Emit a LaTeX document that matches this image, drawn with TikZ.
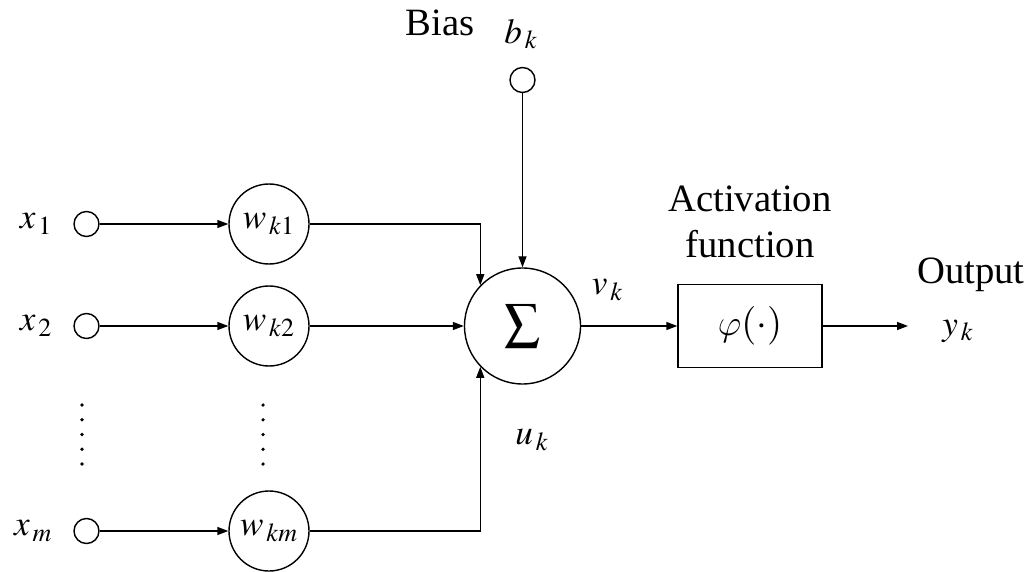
\documentclass[tikz,border=0pt]{standalone}
\usepackage{mathptmx}
\usepackage{fontspec}
\setmainfont{Liberation Serif}
\newfontfamily\lblfont{Liberation Serif}
\DeclareSymbolFont{cmletters}{OML}{cmm}{m}{it}
\DeclareMathSymbol{\cmvarphi}{\mathord}{cmletters}{"27}
\usetikzlibrary{arrows.meta, positioning}

\begin{document}
\begin{tikzpicture}[
  line width=0.8pt,
  every node/.style={font=\fontsize{20}{24}\selectfont},
  lbl/.style={inner sep=0pt},
  txt/.style={font=\lblfont\fontsize{22}{26.5}\selectfont, inner sep=0pt},
  inp/.style={draw, circle, minimum size=0.5cm, inner sep=0pt},
  wt/.style={draw, circle, minimum size=1.6cm, inner sep=0pt},
  arr/.style={-{Triangle[length=2.2mm, width=1.6mm]}}
]
  \useasboundingbox (0,0) rectangle (20.62,-11.44);

  % inputs and weights
  \foreach \i/\y in {1/-4.48, 2/-6.52, m/-10.62} {
    \node[inp] (in\i) at (1.73,\y) {};
    \node[lbl, anchor=east] (lx\i) at (1.06,\y) {$x_{\,\i}$};
    \node[wt] (w\i) at (5.38,\y) {$w_{\,k\i}$};
    \draw[arr] (in\i) -- (w\i);
  }

  \foreach \x in {1.64, 5.26}
    \foreach \k in {0,...,4}
      \fill (\x,-8.1-0.295*\k) circle (1pt);

  \node[draw, circle, minimum size=2.32cm, inner sep=0pt] (sum) at (10.45,-6.52) {$\displaystyle\sum$};
  \node[inp] (bias) at (10.45,-1.6) {};
  \node[draw, minimum width=2.88cm, minimum height=1.66cm, font=\fontsize{22}{26}\selectfont] (phi) at (15.0,-6.52) {$\cmvarphi(\cdot)$};
  \coordinate (out) at (18.16,-6.52);

  % labels
  \node[txt, anchor=base] (biaslbl) at (8.8,-0.72) {Bias};
  \node[lbl] (blbl) at (10.42,-0.68) {$b_{\,k}$};
  \node[txt, align=center, above=0.5cm of phi] (actlbl) {Activation\\function};
  \node[txt, anchor=base] (outlbl) at (19.42,-5.66) {Output};
  \node[lbl] (ylbl) at (19.16,-6.62) {$y_{\,k}$};
  \node[lbl] (vlbl) at (12.15,-5.8) {$v_{\,k}$};
  \node[lbl] (ulbl) at (10.64,-8.8) {$u_{\,k}$};

  \draw[arr] (w1.east) -| (sum.136);
  \draw[arr] (w2) -- (sum);
  \draw[arr] (wm.east) -| (sum.224);
  \draw[arr] (bias) -- (sum);
  \draw[arr] (sum) -- (phi);
  \draw[arr] (phi) -- (out);
\end{tikzpicture}
\end{document}
